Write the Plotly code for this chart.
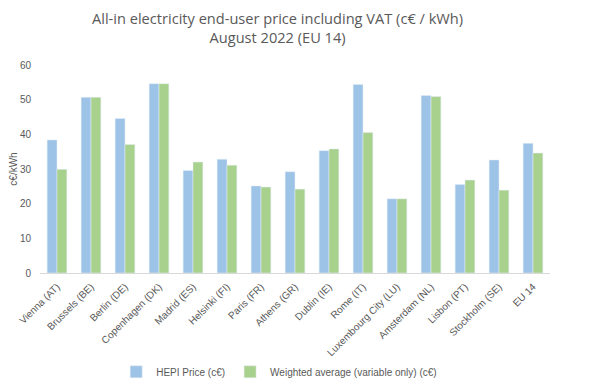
import plotly.graph_objects as go

categories = ["Vienna (AT)", "Brussels (BE)", "Berlin (DE)", "Copenhagen (DK)", "Madrid (ES)",
              "Helsinki (FI)", "Paris (FR)", "Athens (GR)", "Dublin (IE)", "Rome (IT)",
              "Luxembourg City (LU)", "Amsterdam (NL)", "Lisbon (PT)", "Stockholm (SE)", "EU 14"]
hepi = [38.4, 50.7, 44.6, 54.6, 29.6, 32.8, 25.1, 29.2, 35.3, 54.4, 21.4, 51.2, 25.5, 32.6, 37.4]
weighted = [29.9, 50.7, 37.1, 54.6, 32.0, 31.1, 24.8, 24.2, 35.8, 40.5, 21.4, 50.9, 26.8, 23.9, 34.6]
y_ticks = [0, 10, 20, 30, 40, 50, 60]

fig = go.Figure()
fig.add_trace(go.Bar(x=categories, y=hepi, name="HEPI Price (c€)", marker_color="#9dc3e6"))
fig.add_trace(go.Bar(x=categories, y=weighted, name="Weighted average (variable only) (c€)",
                     marker_color="#a9d18e"))

# page has an 8px body margin, so the figure is sized to fit the 594x386 window
fig.update_layout(
    width=586, height=378,
    margin=dict(l=32, r=44, t=57, b=113, autoexpand=False),
    paper_bgcolor="white", plot_bgcolor="white",
    barmode="group", bargap=0.42, bargroupgap=0,
    title=dict(text="All-in electricity end-user price including VAT (c€ / kWh)<br>August 2022 (EU 14)",
               x=0.46, xanchor="center", y=0.958, yanchor="top",
               font=dict(family="Open Sans, sans-serif", size=14.6, color="#595959")),
    font=dict(family="Liberation Sans, Arial, sans-serif", color="#595959"),
    showlegend=True,
    legend=dict(orientation="h", x=0.469, xanchor="center", y=-0.475, yanchor="middle",
                font=dict(size=10, color="#595959"), itemwidth=30, traceorder="normal"),
)
fig.update_xaxes(tickangle=-45, tickfont=dict(size=10, color="#595959"), automargin=False,
                 showline=True, linecolor="#d9d9d9", linewidth=1,
                 ticks="outside", ticklen=3, tickcolor="rgba(0,0,0,0)")
fig.update_yaxes(range=[0, 60], tickvals=y_ticks, tickfont=dict(size=10, color="#595959"),
                 showgrid=False, zeroline=False, showline=False, automargin=False,
                 ticks="outside", ticklen=6, tickcolor="rgba(0,0,0,0)",
                 title=dict(text="c€/kWh", font=dict(size=10, color="#595959"), standoff=3))

fig.write_html("out.html")
